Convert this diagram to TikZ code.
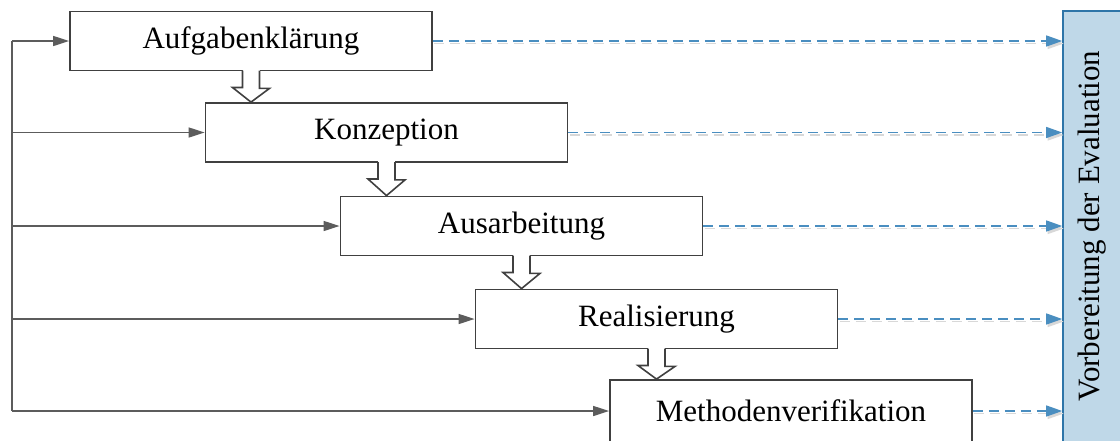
\documentclass[tikz,border=0pt]{standalone}
\usepackage{fontspec}
\setmainfont{Liberation Serif}
\usetikzlibrary{arrows.meta}
\definecolor{boxline}{HTML}{404040}
\definecolor{railgray}{HTML}{5C5C5C}
\definecolor{evalblue}{HTML}{2E75A8}
\definecolor{dashblue}{HTML}{4A8EC0}
\definecolor{evalfill}{HTML}{BFD8E8}
\definecolor{shadowgray}{HTML}{D8D8D8}
\begin{document}
\begin{tikzpicture}[x=1pt,y=-1pt,
  phase/.style={draw=boxline, line width=1.8pt, fill=white, minimum width=362pt,
    minimum height=59pt, inner sep=0pt, font=\fontsize{31}{37}\selectfont},
  evalbar/.style={draw=evalblue, line width=1.6pt, fill=evalfill, minimum width=60pt,
    minimum height=432pt, inner sep=0pt},
  feed/.style={draw=railgray, line width=1.4pt, -{Triangle[length=16pt,width=10pt]}},
  handoff/.style={draw=boxline, line width=1.6pt, fill=white, line join=miter},
  toeval/.style={draw=dashblue, line width=1.3pt, dash pattern=on 10pt off 6pt,
    -{Triangle[length=16pt,width=11pt]}},
  toevalshadow/.style={draw=shadowgray, line width=1.3pt, dash pattern=on 10pt off 6pt,
    -{Triangle[length=16pt,width=11pt]}},
]
\useasboundingbox (0,0) rectangle (1120,440);

% development phases, stepping down to the right
\node[phase] (b1) at (251,41)    {Aufgabenklärung};
\node[phase] (b2) at (386.5,132.5) {Konzeption};
\node[phase] (b3) at (521.5,226) {Ausarbeitung};
\node[phase] (b4) at (656.5,319) {Realisierung};
\node[phase, minimum height=62pt] (b5) at (791,411) {Methodenverifikation};

% side bar collecting the evaluation preparation
\node[evalbar] (ev) at (1093,227) {};
\node[rotate=90, font=\fontsize{31}{37}\selectfont] (evtext) at (1092,226) {Vorbereitung der Evaluation};

% hollow hand-off arrows between consecutive phases
\foreach \a/\b in {b1/b2,b2/b3,b3/b4,b4/b5}{
  \fill[white] ([xshift=-8.5pt,yshift=2pt]\a.south) rectangle ([xshift=8.5pt,yshift=-17pt]\a.south);
  \path[handoff] ([xshift=-8.5pt,yshift=0.9pt]\a.south) -- ++(0,17) -- ++(-10,0)
    -- (\a.south |- \b.north) -- ([xshift=18.5pt,yshift=-17pt]\a.south) -- ++(-10,0)
    -- ([xshift=8.5pt,yshift=0.9pt]\a.south);
}

% feedback rail on the left
\coordinate (rail) at (12,41);
\draw[railgray, line width=1.8pt] (rail |- b1.west) -- (rail |- b5.west);
\foreach \b in {b1,b2,b3,b4,b5}{
  \draw[feed] (rail |- \b.west) -- (\b.west);
}

% dashed links into the evaluation bar
\foreach \b in {b1,b2,b3,b4,b5}{
  \draw[toevalshadow, transform canvas={shift={(1.5pt,-2.5pt)}}] (\b.east) -- (ev.west |- \b.east);
  \draw[toeval] (\b.east) -- (ev.west |- \b.east);
}
\end{tikzpicture}
\end{document}
